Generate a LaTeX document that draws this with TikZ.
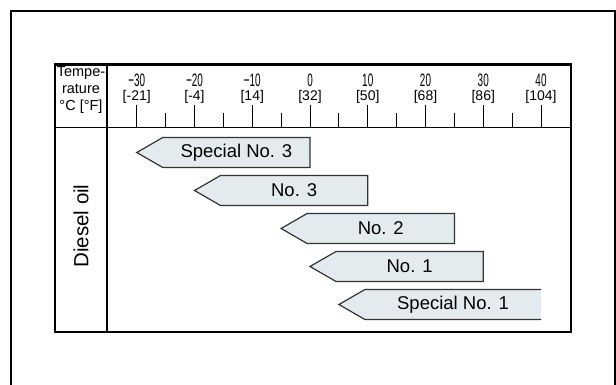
\documentclass[tikz,border=0pt]{standalone}
\usepackage{fontspec}
\setmainfont{Liberation Sans}
\newfontfamily\narrowdigits[FakeStretch=0.55]{Liberation Sans}
\usetikzlibrary{positioning}

\definecolor{barfill}{HTML}{E4EBEE}
\definecolor{barline}{HTML}{333333}

\tikzset{
	frameline/.style={line width=2pt},
	tableline/.style={line width=2.4pt},
	majortick/.style={line width=1pt},
	oilbar/.style={draw=barline, fill=barfill, line width=1.2pt},
	barlabel/.style={font=\fontsize{18.5}{20}\selectfont, inner sep=0pt},
	headlabel/.style={font=\fontsize{14.5}{15}\selectfont, inner sep=0pt, anchor=base},
	clabel/.style={font=\narrowdigits\fontsize{18}{19}\selectfont, inner sep=0pt, anchor=base},
	flabel/.style={font=\fontsize{14}{15}\selectfont, inner sep=0pt, anchor=base},
}

\begin{document}
\begin{tikzpicture}[x=1pt, y=-1pt]
	\useasboundingbox (0,0) rectangle (616,385);
	
	% outer frame, open at the bottom
	\draw[frameline] (11,390) -- (11,11) -- (615,11) -- (615,390);
	
	% table
	\draw[tableline] (55,64.5) rectangle (571,332);
	\draw[line width=1.6pt] (107,64.5) -- (107,332);
	\draw[line width=1.6pt] (55,127.5) -- (571,127.5);
	
	\node[headlabel] (temp1) at (81,77) {Tempe-};
	\node[headlabel] (temp2) at (81,93.7) {rature};
	\node[headlabel] (temp3) at (81,110.3) {°C [°F]};
	
	\foreach \t/\c/\f in {-30/{−30}/{[-21]}, -20/{−20}/{[-4]}, -10/{−10}/{[14]}, 0/{0}/{[32]}, 10/{10}/{[50]}, 20/{20}/{[68]}, 30/{30}/{[86]}, 40/{40}/{[104]}}
	{
		\draw[majortick] (310+5.775*\t, 127.5) -- ++(0,-22.5);
		\node[clabel] (c\t) at (310+5.775*\t, 87) {\c};
		\node[flabel] (f\t) at (310+5.775*\t, 100.8) {\f};
	}
	\foreach \t in {-25,-15,...,35}
		\draw[majortick] (310+5.775*\t, 127.5) -- ++(0,-14.5);
	
	\node[rotate=90, font=\fontsize{20.5}{22}\selectfont] (diesel) at (81,226) {Diesel oil};
	
	% Special No. 3
	\draw[oilbar] (136.75,152.5) -- (162.75,137.5) -- (310,137.5) -- (310,167.5) -- (162.75,167.5) -- cycle;
	\node[barlabel] (sp3) at (236.4,152.5) {Special No. 3};
	
	% No. 3
	\draw[oilbar] (194.5,190.5) -- (220.5,175.5) -- (367.75,175.5) -- (367.75,205.5) -- (220.5,205.5) -- cycle;
	\node[barlabel] (no3) at (294.1,190.5) {No. 3};
	
	% No. 2
	\draw[oilbar] (281.1,228.5) -- (307.1,213.5) -- (454.4,213.5) -- (454.4,243.5) -- (307.1,243.5) -- cycle;
	\node[barlabel] (no2) at (380.8,228.5) {No. 2};
	
	% No. 1
	\draw[oilbar] (310,266.5) -- (336,251.5) -- (483.25,251.5) -- (483.25,281.5) -- (336,281.5) -- cycle;
	\node[barlabel] (no1) at (409.6,266.5) {No. 1};
	
	% Special No. 1, open on the right
	\draw[oilbar] (541,289.5) -- (364.9,289.5) -- (338.9,304.5) -- (364.9,319.5) -- (541,319.5);
	\node[barlabel] (sp1) at (453,304.5) {Special No. 1};
\end{tikzpicture}
\end{document}
